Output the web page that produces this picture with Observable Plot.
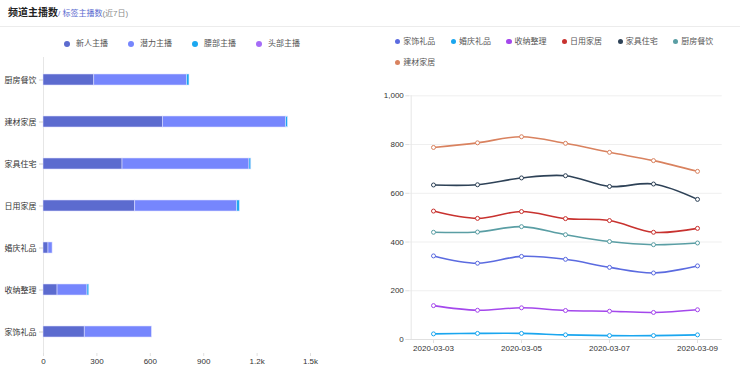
<!DOCTYPE html>
<html>
<head>
<meta charset="utf-8">
<script src="https://cdn.jsdelivr.net/npm/d3@7"></script>
<script src="https://cdn.jsdelivr.net/npm/@observablehq/plot@0.6"></script>
<style>
  html, body { margin: 0; padding: 0; background: #fff; }
  body { width: 740px; height: 379px; position: relative; overflow: hidden;
         font-family: "Liberation Sans", Arial, "Noto Sans CJK SC", sans-serif; color: #333; }
  .abs { position: absolute; }
  #title { left: 8px; top: 4px; white-space: nowrap; line-height: 14px; }
  #title .main { font-size: 10px; font-weight: bold; color: #222; }
  #title .sub { font-size: 8px; color: #5b6bd0; }
  #title .days { font-size: 8px; color: #888; }
  #sep { left: 0; top: 26px; width: 740px; height: 1px; background: #ececec; }
  .leg { position: absolute; font-size: 8px; color: #555; white-space: nowrap; line-height: 10px; }
  .leg .dot { position: absolute; border-radius: 50%; }
  svg text { font-family: "Liberation Sans", Arial, "Noto Sans CJK SC", sans-serif; }
</style>
</head>
<body>
<div id="title" class="abs"><span class="main">频道主播数</span><span class="sub">/ 标签主播数</span><span class="days">(近7日)</span></div>
<div id="sep" class="abs"></div>
<div id="leftLegend"></div>
<div id="rightLegend"></div>
<div id="leftChart" class="abs" style="left:0px;top:50px;"></div>
<div id="rightChart" class="abs" style="left:370px;top:80px;"></div>
<script>
// ---- Left chart data (stacked horizontal bars) ----
const barCategories = ["厨房餐饮", "建材家居", "家具住宅", "日用家居", "婚庆礼品", "收纳整理", "家饰礼品"];
const tiers = ["新人主播", "潜力主播", "腰部主播", "头部主播"];
const tierColors = ["#5c6bcf", "#7686fd", "#1ba8f0", "#a56cf7"];
const newcomerValues = [285, 671, 444, 515, 28, 79, 232];
const potentialValues = [521, 692, 713, 573, 23, 168, 377];
const waistValues = [14, 10, 10, 15, 0, 10, 0];
const headValues = [0, 0, 0, 0, 0, 0, 0];
const barXTicks = [0, 300, 600, 900, 1200, 1500];

// ---- Right chart data (smooth lines) ----
const dates = ["2020-03-03", "2020-03-04", "2020-03-05", "2020-03-06", "2020-03-07", "2020-03-08", "2020-03-09"];
const dateTicks = ["2020-03-03", "2020-03-05", "2020-03-07", "2020-03-09"];
const lineSeries = ["家饰礼品", "婚庆礼品", "收纳整理", "日用家居", "家具住宅", "厨房餐饮", "建材家居"];
const lineColors = ["#5b6be0", "#1aa6ef", "#a448ec", "#c8322f", "#2e4257", "#5a9ea4", "#d9825f"];
const homeDecor = [343, 313, 341, 329, 296, 273, 302];
const wedding = [23, 25, 25, 19, 16, 16, 19];
const storage = [139, 120, 130, 119, 116, 111, 122];
const dailyHome = [527, 497, 525, 496, 488, 440, 456];
const furniture = [634, 635, 663, 672, 628, 638, 575];
const kitchen = [440, 441, 463, 430, 402, 389, 396];
const building = [788, 807, 832, 805, 768, 734, 690];
const lineYTicks = [0, 200, 400, 600, 800, 1000];

// ---- Build tables ----
const tierValues = [newcomerValues, potentialValues, waistValues, headValues];
const barRows = [];
barCategories.forEach((c, i) => tiers.forEach((t, j) => barRows.push({cat: c, tier: t, value: tierValues[j][i]})));

const seriesValues = [homeDecor, wedding, storage, dailyHome, furniture, kitchen, building];
const lineRows = [];
lineSeries.forEach((s, j) => dates.forEach((d, i) => lineRows.push({series: s, date: d, value: seriesValues[j][i]})));

// ---- Legends ----
function legend(container, names, colors, opts) {
  const el = document.getElementById(container);
  names.forEach((n, i) => {
    const row = Math.floor(i / opts.perRow), col = i % opts.perRow;
    const cx = opts.x0 + col * opts.step, cy = opts.y0 + row * opts.rowStep;
    const item = document.createElement("div");
    item.className = "leg";
    item.style.left = (cx + opts.textGap) + "px";
    item.style.top = (cy - 5) + "px";
    item.textContent = n;
    const dot = document.createElement("span");
    dot.className = "dot";
    dot.style.width = dot.style.height = (opts.r * 2) + "px";
    dot.style.left = (-opts.textGap - opts.r) + "px";
    dot.style.top = (5 - opts.r) + "px";
    dot.style.background = colors[i];
    item.appendChild(dot);
    el.appendChild(item);
  });
}
legend("leftLegend", tiers, tierColors, {x0: 67, y0: 44.3, step: 64, rowStep: 21, perRow: 4, textGap: 9, r: 3});
legend("rightLegend", lineSeries, lineColors, {x0: 397.7, y0: 41.7, step: 55.6, rowStep: 21, perRow: 6, textGap: 5.6, r: 2.6});

// ---- Left chart ----
const fmtK = d => d >= 1000 ? (d / 1000) + "k" : String(d);
const left = Plot.plot({
  width: 330, height: 325,
  marginLeft: 43, marginRight: 20, marginTop: 7, marginBottom: 22,
  style: {background: "transparent", color: "#333", overflow: "visible"},
  x: {domain: [0, 1500]},
  y: {domain: barCategories, paddingInner: 0.75, paddingOuter: 0.38},
  color: {domain: tiers, range: tierColors},
  marks: [
    Plot.ruleX([0], {stroke: "#e6e6e6"}),
    Plot.barX(barRows, Plot.stackX({x: "value", y: "cat", fill: "tier", order: tiers,
      stroke: "#dfe3ff", strokeOpacity: 0.7, strokeWidth: 0.8})),
    Plot.axisX({ticks: barXTicks, tickFormat: fmtK, tickSize: 3, tickPadding: 2, fontSize: 8,
      stroke: "#e0e0e0", fill: "#333", label: null}),
    Plot.axisY({tickSize: 4, tickPadding: 3, fontSize: 8, stroke: "#d0d0d0", fill: "#333", label: null})
  ]
});
document.getElementById("leftChart").appendChild(left);

// ---- Right chart ----
const xPlotWidth = 370 - 39.3 - 18.3;
const halfStep = xPlotWidth / (dates.length) / 2;
const right = Plot.plot({
  width: 370, height: 279,
  marginLeft: 39.3, marginRight: 18.3, marginTop: 15.3, marginBottom: 20,
  style: {background: "transparent", color: "#333", overflow: "visible"},
  x: {type: "point", domain: dates, padding: 0.5},
  y: {domain: [0, 1000]},
  color: {domain: lineSeries, range: lineColors},
  marks: [
    Plot.gridY(lineYTicks, {stroke: "#efefef", strokeOpacity: 1}),
    Plot.ruleX([dates[0]], {dx: -halfStep, stroke: "#e6e6e6"}),
    Plot.axisY({ticks: lineYTicks, tickFormat: d3.format(","), tickSize: 4, tickPadding: 2, fontSize: 8,
      stroke: "#e0e0e0", fill: "#333", label: null}),
    Plot.ruleY([0], {stroke: "#e0e0e0"}),
    Plot.axisX({ticks: dateTicks, tickSize: 4, tickPadding: 2, fontSize: 8, stroke: "#e0e0e0", fill: "#333", label: null}),
    Plot.lineY(lineRows, {x: "date", y: "value", z: "series", stroke: "series", curve: "catmull-rom", strokeWidth: 1.6}),
    Plot.dot(lineRows, {x: "date", y: "value", stroke: "series", fill: "#fff", r: 2, strokeWidth: 1})
  ]
});
document.getElementById("rightChart").appendChild(right);
</script>
</body>
</html>
